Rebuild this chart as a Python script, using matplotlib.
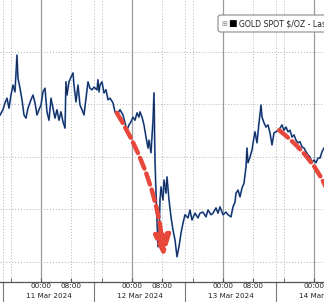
import matplotlib
matplotlib.use("Agg")
import matplotlib.pyplot as plt
from matplotlib.patches import FancyBboxPatch

# hours after 11 Mar 2024 00:00, gold spot price in $/oz
hours = [
    -10.81, -10.02, -9.49, -8.97, -8.44, -7.91, -7.38, -6.86, -6.33, -6.07,
    -5.54, -5.01, -4.48, -3.96, -3.43, -2.64, -2.11, -1.58, -1.05, -0.53,
    0.00, 0.53, 1.05, 1.58, 2.11, 2.64, 3.16, 3.69, 4.22, 4.75,
    5.27, 5.80, 6.33, 6.59, 6.86, 7.38, 7.91, 8.44, 8.70, 9.23,
    9.76, 10.28, 10.81, 11.34, 11.87, 12.39, 12.92, 13.45, 13.98, 14.77,
    15.03, 15.30, 15.56, 16.09, 16.61, 17.14, 17.67, 18.20, 18.99, 19.51,
    20.04, 20.83, 21.62, 22.15, 22.68, 23.21, 23.73, 24.26, 24.79, 25.32,
    25.84, 26.11, 26.64, 27.16, 27.69, 28.22, 28.48, 29.01, 29.54, 29.80,
    30.06, 30.33, 30.59, 30.85, 31.12, 31.38, 31.65, 32.17, 32.44, 32.96,
    33.23, 33.76, 34.28, 34.81, 35.34, 35.86, 36.39, 36.92, 37.45, 37.97,
    38.77, 39.29, 39.82, 40.61, 41.40, 41.93, 42.72, 43.51, 44.04, 44.83,
    45.36, 46.15, 46.68, 47.20, 48.00, 48.79, 49.31, 50.11, 50.63, 51.16,
    51.42, 51.95, 52.48, 53.01, 53.53, 54.06, 54.32, 54.59, 55.12, 55.64,
    56.17, 56.43, 56.96, 57.23, 57.49, 58.02, 58.28, 58.81, 59.34, 59.86,
    60.39, 60.92, 61.45, 61.97, 62.50, 63.03, 63.55, 64.08, 64.61, 65.14,
    65.66, 66.19, 66.72, 67.25, 67.77, 68.30, 68.83, 69.36, 69.88, 70.41,
    70.94, 71.47, 71.99, 72.52, 73.05, 73.58, 74.10, 74.63,
]
price = [
    2178.0, 2179.0, 2180.3, 2181.2, 2179.3, 2181.8, 2183.7, 2182.4, 2189.4, 2185.0,
    2183.1, 2180.9, 2178.0, 2177.4, 2179.3, 2180.9, 2181.8, 2180.3, 2178.0, 2179.0,
    2179.9, 2182.4, 2183.1, 2178.6, 2177.0, 2181.2, 2179.3, 2177.4, 2179.0, 2177.0,
    2178.6, 2176.7, 2175.5, 2184.3, 2181.8, 2184.3, 2185.2, 2186.0, 2183.7, 2180.5,
    2183.7, 2179.9, 2179.0, 2178.0, 2181.2, 2184.3, 2183.1, 2182.8, 2183.3, 2182.8,
    2184.7, 2182.4, 2183.7, 2184.3, 2182.2, 2182.8, 2180.9, 2181.2, 2180.3, 2178.6,
    2178.0, 2179.0, 2178.0, 2176.5, 2175.1, 2176.1, 2176.7, 2177.6, 2177.0, 2178.4,
    2177.6, 2178.6, 2177.6, 2176.1, 2173.8, 2171.7, 2173.2, 2170.8, 2177.0, 2182.2,
    2169.4, 2163.1, 2158.0, 2152.9, 2154.2, 2161.8, 2164.3, 2161.8, 2165.6, 2163.1,
    2166.2, 2161.8, 2158.6, 2156.1, 2154.2, 2151.0, 2152.9, 2155.5, 2157.4, 2159.0,
    2158.4, 2159.9, 2158.0, 2159.3, 2158.4, 2159.3, 2159.5, 2158.6, 2159.9, 2159.0,
    2159.3, 2160.3, 2159.3, 2160.5, 2159.0, 2159.5, 2159.0, 2158.6, 2160.5, 2161.4,
    2163.1, 2163.7, 2162.4, 2164.1, 2165.0, 2168.1, 2171.7, 2168.9, 2170.0, 2171.3,
    2173.8, 2174.8, 2172.7, 2174.6, 2176.5, 2179.9, 2177.6, 2176.5, 2175.7, 2176.1,
    2174.6, 2172.3, 2174.6, 2174.8, 2175.1, 2175.5, 2176.1, 2175.1, 2175.7, 2174.8,
    2175.1, 2173.8, 2174.2, 2173.2, 2172.7, 2172.9, 2171.9, 2171.7, 2171.0, 2170.4,
    2170.0, 2169.0, 2169.4, 2168.9, 2169.8, 2169.8, 2171.0, 2171.7,
]

price_grid = [2150, 2160, 2170, 2180, 2190]
midnights = [0, 24, 48, 72]
major_ticks = [0, 8, 24, 32, 48, 56, 72]
major_labels = ["00:00", "08:00"] * 3 + ["00:00"]
minor_ticks = [-8, 16, 40, 64]
session_breaks = [-10, 14, 38, 62]
date_centers = [2, 26, 50, 74]
date_labels = ["11 Mar 2024", "12 Mar 2024", "13 Mar 2024", "14 Mar 2024"]

# hand-drawn red arrows (hours, price)
arrow1_start = (20.0, 2178.4)
arrow1_end = (32.4, 2150.8)
arrow2_start = (62.8, 2175.1)
arrow2_end = (78.3, 2156.1)

RED = "#e8473b"
GRID = "#b4b4b4"

fig = plt.figure(figsize=(3.24, 3.02), dpi=100)
ax = fig.add_axes([0, 20 / 302, 1, 282 / 302])

for y in price_grid:
    ax.axhline(y, color=GRID, lw=0.7, ls=(0, (1, 2)), zorder=1)
for x in midnights:
    ax.axvline(x, color="#9a9a9a", lw=0.9, zorder=1)
for x in [8, 32, 56] + minor_ticks + session_breaks:
    ax.axvline(x, color=GRID, lw=0.7, ls=(0, (1, 2)), zorder=1)

ax.plot(hours, price, color="#4a7cc8", lw=1.3, zorder=3)
ax.plot(hours, price, color="#0e1c3c", lw=0.6, zorder=4)

arrow_style = "-|>,head_length=1.3,head_width=0.5"
ax.annotate("", xy=arrow1_end, xytext=arrow1_start,
            arrowprops=dict(arrowstyle=arrow_style, color=RED, lw=3.2, ls=(0, (2.6, 1.2)),
                            shrinkA=0, shrinkB=0, mutation_scale=10,
                            connectionstyle="arc3,rad=-0.12"), zorder=5)
ax.annotate("", xy=arrow2_end, xytext=arrow2_start, annotation_clip=False,
            arrowprops=dict(arrowstyle=arrow_style, color=RED, lw=3.2, ls=(0, (2.6, 1.2)),
                            shrinkA=0, shrinkB=0, mutation_scale=10,
                            connectionstyle="arc3,rad=-0.2"), zorder=5)

for side in ["left", "right", "top"]:
    ax.spines[side].set_visible(False)
ax.spines["bottom"].set_color("#555555")
ax.spines["bottom"].set_linewidth(0.9)
ax.set_yticks([])
ax.set_xticks(major_ticks, major_labels)
ax.set_xticks(minor_ticks, minor=True)
ax.tick_params(axis="x", which="both", direction="in", length=3, color="#555555",
               labelsize=5.2, labelcolor="#222222", pad=0.8)
ax.set_xlim(-10.81, 74.63)
ax.set_ylim(2146.19, 2199.9)

trans = ax.get_xaxis_transform()
for x, label in zip(date_centers, date_labels):
    ax.text(x, -0.05, label, transform=trans, ha="center", va="center",
            fontsize=5.2, color="#222222", clip_on=False)
for x in session_breaks:
    ax.plot([x, x], [0, -0.08], transform=trans, color="#777777", lw=0.8, clip_on=False)

# legend box, running off the right edge
W, H = 324, 302
fig.patches.append(FancyBboxPatch((218 / W, 1 - 32 / H), 130 / W, 17 / H,
                                  boxstyle="round,pad=0,rounding_size=0.008",
                                  transform=fig.transFigure, fc="white", ec="#8a8a8a", lw=0.8))
fig.text(221 / W, 1 - 23.5 / H, "\u229e", fontsize=5, color="#888888", va="center")
fig.text(228 / W, 1 - 23.5 / H, "\u25a0", fontsize=6.5, color="black", va="center")
fig.text(239 / W, 1 - 23.5 / H, "GOLD SPOT $/OZ - Last", fontsize=5.6, color="#222222", va="center")

fig.savefig("out.png", dpi=100)
